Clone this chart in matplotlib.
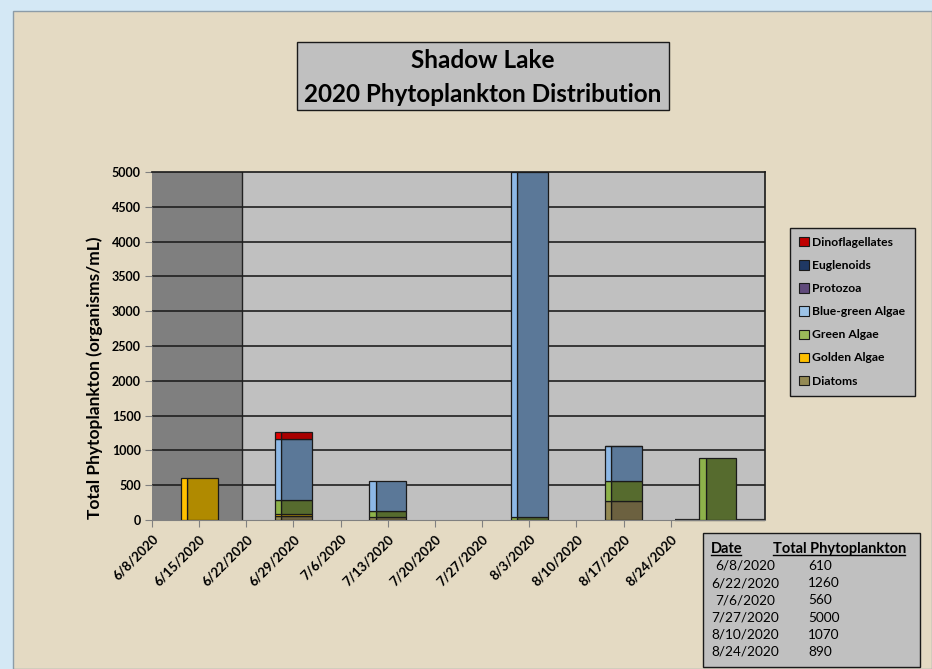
import numpy as np
import pandas as pd
import matplotlib
matplotlib.use("Agg")
import matplotlib.pyplot as plt
import matplotlib.dates as mdates
from matplotlib.patches import Rectangle, Patch
from matplotlib.lines import Line2D

# sample values (organisms/mL), one stack per sampling date as drawn
bar_dates = ["2020-06-15", "2020-06-29", "2020-07-13", "2020-08-03", "2020-08-17", "2020-08-31"]
diatoms = [0, 60, 40, 0, 270, 0]
golden_algae = [610, 25, 0, 0, 0, 0]
green_algae = [0, 200, 95, 50, 290, 890]
bluegreen_algae = [0, 885, 425, 4950, 500, 0]
protozoa = [0, 0, 0, 0, 0, 0]
euglenoids = [0, 0, 0, 0, 0, 0]
dinoflagellates = [0, 90, 0, 0, 10, 0]

tick_dates = ["2020-06-08", "2020-06-15", "2020-06-22", "2020-06-29", "2020-07-06", "2020-07-13",
              "2020-07-20", "2020-07-27", "2020-08-03", "2020-08-10", "2020-08-17", "2020-08-24"]
tick_labels = ["6/8/2020", "6/15/2020", "6/22/2020", "6/29/2020", "7/6/2020", "7/13/2020",
               "7/20/2020", "7/27/2020", "8/3/2020", "8/10/2020", "8/17/2020", "8/24/2020"]

table_dates = ["6/8/2020", "6/22/2020", "7/6/2020", "7/27/2020", "8/10/2020", "8/24/2020"]
table_totals = [610, 1260, 560, 5000, 1070, 890]

# (name, values, side colour, front colour) bottom -> top
groups = [
    ("Diatoms", diatoms, "#948A54", "#6C6140"),
    ("Golden Algae", golden_algae, "#FFC000", "#B08A00"),
    ("Green Algae", green_algae, "#8DB24A", "#566B2E"),
    ("Blue-green Algae", bluegreen_algae, "#8DB8E6", "#5B7898"),
    ("Protozoa", protozoa, "#8064A2", "#5F4A7B"),
    ("Euglenoids", euglenoids, "#1F497D", "#17375E"),
    ("Dinoflagellates", dinoflagellates, "#E00000", "#A80000"),
]
legend_colors = {"Dinoflagellates": "#C00000", "Euglenoids": "#1F3864", "Protozoa": "#604A7B",
                 "Blue-green Algae": "#9DC3E6", "Green Algae": "#9BBB59",
                 "Golden Algae": "#FFC000", "Diatoms": "#948A54"}

plt.rcParams["font.family"] = ["Lato", "DejaVu Sans"]

W, H = 932, 669
fig = plt.figure(figsize=(W / 100, H / 100), dpi=100)
fig.patch.set_facecolor("#D4E8F5")
fig.patches.append(Rectangle((13 / W, 0), 1 - 13 / W, 1 - 11 / H, transform=fig.transFigure,
                             facecolor="#E4DAC3", edgecolor="#8C9CA8", lw=1, zorder=-10))

ax = fig.add_axes([152 / W, 1 - 520 / H, (765 - 152) / W, (520 - 172) / H])
ax.set_zorder(2)
ax.set_facecolor("#C0C0C0")

x0 = mdates.datestr2num("2020-06-08")
x1 = mdates.datestr2num("2020-09-07")
ax.set_xlim(x0, x1)
ax.set_ylim(0, 5000)

# dark shaded start of season
shade_end = mdates.datestr2num("2020-06-21 07:00")
ax.axvspan(x0, shade_end, facecolor="#7F7F7F", edgecolor="none", zorder=0.5)
ax.axvline(shade_end, color="#222222", lw=1, zorder=0.6)

ax.set_yticks(np.arange(0, 5001, 500))
for yv in np.arange(500, 5000, 500):
    ax.axhline(yv, color="#202020", lw=1.2, zorder=1)

xs = mdates.datestr2num(bar_dates)
width = 5.5
side = 0.95
bottoms = np.zeros(len(xs))
for name, vals, light, dark in groups:
    vals = np.array(vals, dtype=float)
    for i in range(len(xs)):
        if vals[i] <= 0:
            continue
        left = xs[i] - width / 2
        ax.bar(left + side, vals[i], width - side, bottoms[i], align="edge",
               color=dark, edgecolor="#1A1A1A", lw=0.9, zorder=3)
        ax.bar(left, vals[i], side, bottoms[i], align="edge",
               color=light, edgecolor="#1A1A1A", lw=0.9, zorder=3)
    bottoms += vals

# floor line drawn by the original chart after the last labelled week
ax.hlines(0, mdates.datestr2num(tick_dates[-1]) + 0.6, x1, color="#222222", lw=1.6, zorder=2.5,
          clip_on=False)

ax.set_xticks(mdates.datestr2num(tick_dates))
ax.set_xticklabels(tick_labels, rotation=45, ha="right", rotation_mode="anchor",
                   fontsize=9.5, fontweight="bold")
ax.tick_params(axis="x", length=5, color="#808080", pad=4)
ax.tick_params(axis="y", length=5, color="#808080", labelsize=9, pad=3)
for lab in ax.get_yticklabels():
    lab.set_fontweight("bold")

for s in ["top", "right"]:
    ax.spines[s].set_color("#1A1A1A")
    ax.spines[s].set_linewidth(1.2)
ax.spines["left"].set_visible(False)
ax.spines["bottom"].set_color("#808080")

ax.set_ylabel("Total Phytoplankton (organisms/mL)", fontsize=12.5, fontweight="bold")
ax.yaxis.set_label_coords(-0.08, 0.41)

# title box
fig.patches.append(Rectangle((297 / W, 1 - 110 / H), 372 / W, 68 / H, transform=fig.transFigure,
                             facecolor="#C0C0C0", edgecolor="#1A1A1A", lw=1, zorder=2))
fig.text(483 / W, 1 - 61 / H, "Shadow Lake", ha="center", va="center",
         fontsize=17.5, fontweight="bold", zorder=3)
fig.text(483 / W, 1 - 94 / H, "2020 Phytoplankton Distribution", ha="center", va="center",
         fontsize=17.5, fontweight="bold", zorder=3)

# legend
handles = [Patch(facecolor=legend_colors[g[0]], edgecolor="#1A1A1A", lw=0.8) for g in groups[::-1]]
labels = [g[0] for g in groups[::-1]]
leg = fig.legend(handles, labels, loc="upper left", bbox_to_anchor=(790 / W, 1 - 228 / H),
                 frameon=True, fancybox=False, prop={"weight": "bold", "size": 8.7},
                 handlelength=0.8, handleheight=0.8, handletextpad=0.3,
                 labelspacing=1.0, borderpad=0.75, borderaxespad=0)
leg.get_frame().set_facecolor("#C0C0C0")
leg.get_frame().set_edgecolor("#1A1A1A")
leg.get_frame().set_alpha(1)

# data table
fig.patches.append(Rectangle((703 / W, 1 - 667 / H), 217 / W, 134 / H, transform=fig.transFigure,
                             facecolor="#C0C0C0", edgecolor="#1A1A1A", lw=1, zorder=2))
h1 = fig.text(711 / W, 1 - 549 / H, "Date", fontsize=10.5, fontweight="bold", va="center", zorder=3)
h2 = fig.text(773 / W, 1 - 549 / H, "Total Phytoplankton", fontsize=10.5, fontweight="bold",
              va="center", zorder=3)
for k, (d, t) in enumerate(zip(table_dates, table_totals)):
    yy = 1 - (566 + k * 17.2) / H
    fig.text(745 / W, yy, d, fontsize=9.8, ha="center", va="center", zorder=3)
    fig.text(808 / W, yy, str(t), fontsize=9.8, ha="left", va="center", zorder=3)

fig.canvas.draw()
r = fig.canvas.get_renderer()
for t in (h1, h2):
    bb = t.get_window_extent(r).transformed(fig.transFigure.inverted())
    fig.lines.append(Line2D([bb.x0, bb.x1 - 1.5 / W], [bb.y0 + 0.002, bb.y0 + 0.002],
                            transform=fig.transFigure, color="black", lw=1, zorder=4))

fig.savefig("out.png", dpi=100, facecolor=fig.get_facecolor())
